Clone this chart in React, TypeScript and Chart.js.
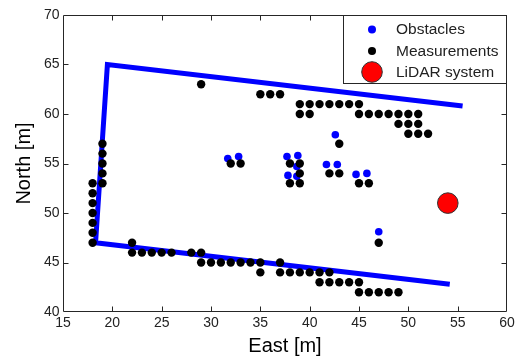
import { useEffect, useRef } from "react";
import { Chart, registerables } from "chart.js";

Chart.register(...registerables);

// Boundary polyline (blue)
const boundaryEast = [55.5, 19.5, 18.3, 54.2];
const boundaryNorth = [60.8, 65.0, 47.0, 42.8];

// Obstacles (blue dots)
const obstacleEast = [31.7, 32.8, 37.7, 38.8, 38.7, 37.8, 38.7, 41.7, 42.8, 44.7, 45.8, 42.6, 47.0];
const obstacleNorth = [55.5, 55.7, 55.7, 55.8, 54.7, 53.8, 53.7, 54.9, 54.9, 53.9, 54.0, 57.9, 48.1];

// Measurements (black dots)
const measEast = [
  18, 18, 18, 18, 18, 18, 18,
  19, 19, 19, 19, 19,
  22,
  22, 23, 24, 25, 26, 28, 29,
  29, 30, 31, 32, 33, 34, 35, 37,
  35, 37, 38, 39, 40, 41, 42,
  41, 42, 43, 44, 45,
  45, 46, 47, 48, 49,
  47,
  29,
  35, 36, 37,
  39, 40, 41, 42, 43, 44, 45,
  39, 40, 45, 46, 47, 48, 49, 50, 51,
  49, 50, 51,
  50, 51, 52,
  43,
  32, 33,
  38, 39, 39, 38, 39,
  42, 43,
  45, 46,
];
const measNorth = [
  47, 48, 49, 50, 51, 52, 53,
  53, 54, 55, 56, 57,
  47,
  46, 46, 46, 46, 46, 46, 46,
  45, 45, 45, 45, 45, 45, 45, 45,
  44, 44, 44, 44, 44, 44, 44,
  43, 43, 43, 43, 43,
  42, 42, 42, 42, 42,
  47,
  63,
  62, 62, 62,
  61, 61, 61, 61, 61, 61, 61,
  60, 60, 60, 60, 60, 60, 60, 60, 60,
  59, 59, 59,
  58, 58, 58,
  57,
  55, 55,
  55, 55, 54, 53, 53,
  54, 54,
  53, 53,
];

// LiDAR system (red)
const lidarEast = [54.0];
const lidarNorth = [51.0];

const xTicks = [15, 20, 25, 30, 35, 40, 45, 50, 55, 60];
const yTicks = [40, 45, 50, 55, 60, 65, 70];
const legendLabels = ["Obstacles", "Measurements", "LiDAR system"];
const xTitle = "East [m]";
const yTitle = "North [m]";

const FONT = "'Liberation Sans', Arial, sans-serif";
const AXIS_COLOR = "#262626";

const toPoints = (xs: number[], ys: number[]) => xs.map((x, i) => ({ x, y: ys[i] }));

const framePlugin = {
  id: "matlabFrame",
  afterDraw(chart: any) {
    const { ctx, chartArea, scales } = chart;
    const { left, right, top, bottom } = chartArea;
    const L = Math.round(left) + 0.5;
    const R = Math.round(right) - 0.5;
    const T = Math.round(top) + 0.5;
    const B = Math.round(bottom) - 0.5;
    ctx.save();
    ctx.strokeStyle = AXIS_COLOR;
    ctx.lineWidth = 1;
    ctx.beginPath();
    ctx.rect(L, T, R - L, B - T);
    ctx.stroke();
    const tl = 5;
    ctx.beginPath();
    xTicks.forEach((v) => {
      const p = Math.round(scales.x.getPixelForValue(v)) + 0.5;
      if (p <= L + 1 || p >= R - 1) return;
      ctx.moveTo(p, B);
      ctx.lineTo(p, B - tl);
      ctx.moveTo(p, T);
      ctx.lineTo(p, T + tl);
    });
    yTicks.forEach((v) => {
      const p = Math.round(scales.y.getPixelForValue(v)) + 0.5;
      if (p <= T + 1 || p >= B - 1) return;
      ctx.moveTo(L, p);
      ctx.lineTo(L + tl, p);
      ctx.moveTo(R, p);
      ctx.lineTo(R - tl, p);
    });
    ctx.stroke();

    // Legend box (top-right, inside axes)
    const boxL = 343.5;
    const boxT = T;
    const boxR = R;
    const boxB = 83.5;
    ctx.fillStyle = "#ffffff";
    ctx.fillRect(boxL, boxT, boxR - boxL, boxB - boxT);
    ctx.strokeStyle = AXIS_COLOR;
    ctx.strokeRect(boxL, boxT, boxR - boxL, boxB - boxT);
    const rows = [29.5, 51, 72];
    const ds = chart.data.datasets;
    const items = [ds[1], ds[2], ds[3]];
    const legendRadii = [4, 4, 10.3];
    items.forEach((d: any, i: number) => {
      const cy = rows[i];
      const cx = 372;
      ctx.beginPath();
      ctx.arc(cx, cy, legendRadii[i], 0, Math.PI * 2);
      ctx.fillStyle = d.backgroundColor;
      ctx.fill();
      if (d.borderWidth) {
        ctx.lineWidth = d.borderWidth;
        ctx.strokeStyle = d.borderColor;
        ctx.stroke();
      }
      ctx.fillStyle = "#222222";
      ctx.font = `15.5px ${FONT}`;
      ctx.textAlign = "left";
      ctx.textBaseline = "middle";
      ctx.fillText(legendLabels[i], 396, cy + 0.5);
    });
    ctx.restore();
  },
};

export default function App() {
  const canvasRef = useRef<HTMLCanvasElement | null>(null);

  useEffect(() => {
    if (!canvasRef.current) return;
    const chart = new Chart(canvasRef.current, {
      type: "scatter",
      data: {
        datasets: [
          {
            label: "Boundary",
            data: toPoints(boundaryEast, boundaryNorth),
            showLine: true,
            borderColor: "#0000ff",
            backgroundColor: "#0000ff",
            borderWidth: 5,
            pointRadius: 0,
            borderJoinStyle: "miter",
            order: 4,
          } as any,
          {
            label: legendLabels[0],
            data: toPoints(obstacleEast, obstacleNorth),
            backgroundColor: "#0000ff",
            borderColor: "#0000ff",
            borderWidth: 0,
            pointRadius: 3.8,
            order: 3,
          },
          {
            label: legendLabels[1],
            data: toPoints(measEast, measNorth),
            backgroundColor: "#000000",
            borderColor: "#000000",
            borderWidth: 0,
            pointRadius: 4.2,
            order: 2,
          },
          {
            label: legendLabels[2],
            data: toPoints(lidarEast, lidarNorth),
            backgroundColor: "#ff0000",
            borderColor: "#333333",
            borderWidth: 1,
            pointRadius: 10.3,
            order: 1,
          },
        ],
      },
      options: {
        responsive: false,
        animation: false,
        devicePixelRatio: 1,
        events: [],
        layout: { padding: { top: 15, right: 13, left: 0, bottom: 0 } },
        plugins: {
          legend: { display: false },
          tooltip: { enabled: false },
        },
        scales: {
          x: {
            type: "linear",
            min: 15,
            max: 60,
            afterBuildTicks: (s: any) => {
              s.ticks = xTicks.map((v) => ({ value: v }));
            },
            afterFit: (s: any) => {
              s.height = 48;
            },
            grid: { display: false, drawTicks: false },
            border: { display: false },
            ticks: {
              padding: 3,
              color: "#222222",
              font: { family: FONT, size: 14 },
              maxRotation: 0,
              autoSkip: false,
            },
            title: {
              display: true,
              text: xTitle,
              color: "#000000",
              font: { family: FONT, size: 20 },
              padding: { top: 0, bottom: 2 },
            },
          },
          y: {
            type: "linear",
            min: 40,
            max: 70,
            afterBuildTicks: (s: any) => {
              s.ticks = yTicks.map((v) => ({ value: v }));
            },
            afterFit: (s: any) => {
              s.width = 63;
            },
            grid: { display: false, drawTicks: false },
            border: { display: false },
            ticks: {
              padding: 3.5,
              color: "#222222",
              font: { family: FONT, size: 14 },
              autoSkip: false,
            },
            title: {
              display: true,
              text: yTitle,
              color: "#000000",
              font: { family: FONT, size: 20 },
              padding: { top: 12.7, bottom: 0 },
            },
          },
        },
      },
      plugins: [framePlugin],
    });
    return () => chart.destroy();
  }, []);

  return (
    <div style={{ position: "fixed", left: 0, top: 0, width: 520, height: 360, background: "#ffffff" }}>
      <canvas ref={canvasRef} width={520} height={360} style={{ display: "block" }} />
    </div>
  );
}
